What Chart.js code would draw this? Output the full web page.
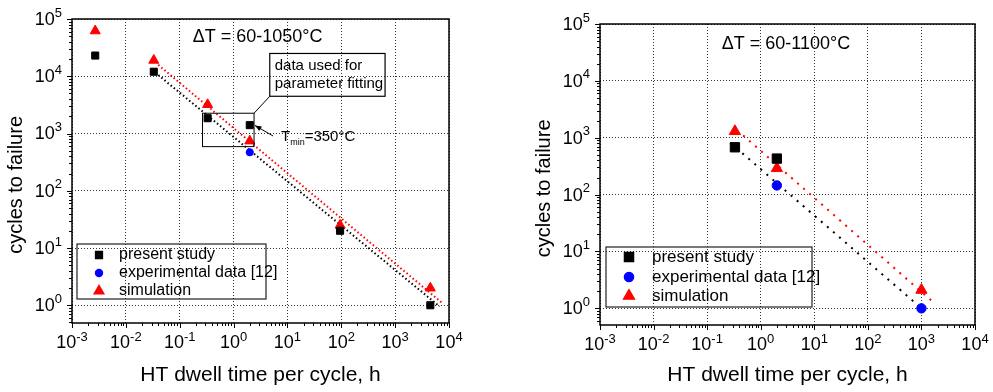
<!DOCTYPE html>
<html>
<head>
<meta charset="utf-8">
<script src="https://cdn.jsdelivr.net/npm/chart.js@4.4.1/dist/chart.umd.min.js"></script>
<style>
  body { margin: 0; background: #fff; width: 993px; height: 392px; overflow: hidden; position: relative; }
  canvas { position: absolute; top: 0; }
  #left { left: 0; }
  #right { left: 496px; }
</style>
</head>
<body>
<canvas id="left" width="496" height="392"></canvas>
<canvas id="right" width="497" height="392"></canvas>
<script>
// left panel, dT = 60-1050 C
const dwellA = [0.0027, 0.033, 0.33, 2, 95, 4500];
const presentA = [23000, 12000, 1850, 1400, 20, 1];
const expDwellA = [2];
const expA = [470];
const simA = [62000, 19000, 3200, 740, 25, 2.0];
const fitBlackXA = [0.04, 6700];
const fitBlackYA = [10500, 0.95];
const fitRedXA = [0.04, 7600];
const fitRedYA = [15800, 1.08];

// right panel, dT = 60-1100 C
const dwellB = [0.33, 2];
const presentB = [680, 430];
const expDwellB = [2, 1000];
const expB = [145, 1];
const simDwellB = [0.33, 2, 1000];
const simB = [1300, 290, 2.1];
const fitBlackXB = [0.27, 950];
const fitBlackYB = [815, 1.05];
const fitRedXB = [0.47, 1800];
const fitRedYB = [1100, 1.2];

const seriesNames = ['present study', 'experimental data [12]', 'simulation'];
const xTickExps = [-3, -2, -1, 0, 1, 2, 3, 4];
const yTickExps = [0, 1, 2, 3, 4, 5];

const FONT = '"Liberation Sans", Arial, sans-serif';
Chart.defaults.font.family = FONT;
Chart.defaults.color = '#000';

const pts = (xs, ys) => xs.map((x, i) => ({ x: x, y: ys[i] }));
const isDecade = v => Math.abs(Math.log10(v) - Math.round(Math.log10(v))) < 1e-6;

function makeDatasets(p, e, s, fb, fr, sz) {
    return [
        { label: seriesNames[0], data: p, pointStyle: 'rect', pointRadius: sz.sq,
          backgroundColor: '#000', borderColor: '#000', borderWidth: 1, order: 0 },
        { label: seriesNames[1], data: e, pointStyle: 'circle', pointRadius: sz.ci,
          backgroundColor: '#0000ff', borderColor: '#0000ff', borderWidth: 1, order: 0 },
        { label: seriesNames[2], data: s, pointStyle: 'triangle', pointRadius: sz.tr,
          backgroundColor: '#ff0000', borderColor: '#ff0000', borderWidth: 1, order: 0 },
        { label: 'fit present', data: fb, showLine: true, pointRadius: 0, borderColor: '#000',
          borderWidth: 2, borderDash: sz.dash, order: 5 },
        { label: 'fit simulation', data: fr, showLine: true, pointRadius: 0, borderColor: '#ff0000',
          borderWidth: 2, borderDash: sz.dash, order: 5 }
    ];
}

// frame, tick marks, 10^n labels, legend box and text notes
const decor = {
    id: 'decor',
    afterDraw(chart, args, o) {
        const { ctx, chartArea: a, scales: { x, y } } = chart;
        const P = (xv, yv) => [x.getPixelForValue(xv), y.getPixelForValue(yv)];
        ctx.save();
        ctx.strokeStyle = '#000';
        ctx.lineWidth = 1;
        // ticks
        for (let e = -4; e <= 5; e++) {
            for (let k = 1; k <= 9; k++) {
                const v = k * Math.pow(10, e);
                const len = k === 1 ? 5 : 3;
                if (v >= x.min - 1e-12 && v <= x.max * 1.0001) {
                    const px = Math.round(x.getPixelForValue(v)) + 0.5;
                    ctx.beginPath(); ctx.moveTo(px, a.bottom); ctx.lineTo(px, a.bottom + len); ctx.stroke();
                }
                if (v >= y.min && v <= y.max * 1.0001) {
                    const py = Math.round(y.getPixelForValue(v)) + 0.5;
                    ctx.beginPath(); ctx.moveTo(a.left, py); ctx.lineTo(a.left - len, py); ctx.stroke();
                }
            }
        }
        ctx.lineWidth = 1.5;
        ctx.strokeRect(a.left, a.top, a.right - a.left, a.bottom - a.top);

        // tick labels with superscript exponent
        ctx.fillStyle = '#000';
        ctx.textBaseline = 'middle';
        const big = '18px ' + FONT, small = '13px ' + FONT;
        xTickExps.forEach(e => {
            const px = x.getPixelForValue(Math.pow(10, e));
            ctx.font = big; const w1 = ctx.measureText('10').width;
            ctx.font = small; const w2 = ctx.measureText(String(e)).width;
            const x0 = px - (w1 + w2) / 2;
            ctx.textAlign = 'left';
            ctx.font = big; ctx.fillText('10', x0, a.bottom + 20);
            ctx.font = small; ctx.fillText(String(e), x0 + w1, a.bottom + 14);
        });
        yTickExps.forEach(e => {
            const py = y.getPixelForValue(Math.pow(10, e));
            ctx.font = small; const w2 = ctx.measureText(String(e)).width;
            const xr = a.left - 10;
            ctx.textAlign = 'left';
            ctx.fillText(String(e), xr - w2, py - 6);
            ctx.textAlign = 'right';
            ctx.font = big; ctx.fillText('10', xr - w2, py + 1);
        });

        // legend
        const L = o.legend;
        const lx = a.left + L.dx, ly = a.bottom - L.dy - L.h;
        ctx.lineWidth = 1.2;
        ctx.strokeStyle = '#222';
        ctx.strokeRect(lx, ly, L.w, L.h);
        chart.data.datasets.slice(0, 3).forEach((ds, i) => {
            const cy = ly + L.rows[i];
            ctx.fillStyle = ds.backgroundColor;
            ctx.strokeStyle = ds.borderColor;
            Chart.helpers.drawPoint(ctx, { pointStyle: ds.pointStyle, radius: ds.pointRadius, rotation: 0, borderWidth: 1 }, lx + L.mx, cy);
            ctx.fillStyle = '#000';
            ctx.font = L.font + 'px ' + FONT;
            ctx.textAlign = 'left';
            ctx.fillText(ds.label, lx + L.tx, cy);
        });

        // delta T label
        ctx.font = '18px ' + FONT;
        ctx.textAlign = 'center';
        const t = P(o.title.x, o.title.y);
        ctx.fillText(o.title.text, t[0], t[1]);

        if (o.note) {
            const n = o.note;
            ctx.strokeStyle = '#000';
            ctx.lineWidth = 1;
            // small box round the fitted points
            const s1 = P(n.small[0], n.small[3]), s2 = P(n.small[1], n.small[2]);
            ctx.strokeRect(s1[0], s1[1], s2[0] - s1[0], s2[1] - s1[1]);
            // text box
            const b1 = P(n.box[0], n.box[3]), b2 = P(n.box[1], n.box[2]);
            ctx.lineWidth = 1.2;
            ctx.strokeRect(b1[0], b1[1], b2[0] - b1[0], b2[1] - b1[1]);
            ctx.lineWidth = 1;
            ctx.beginPath(); ctx.moveTo(s2[0], s1[1]); ctx.lineTo(b1[0], b2[1]); ctx.stroke();
            ctx.font = '15px ' + FONT;
            ctx.textAlign = 'left';
            n.lines.forEach((ln, i) => ctx.fillText(ln, b1[0] + 5, b1[1] + 12 + i * 18));
            // arrow to the Tmin point
            const p0 = P(n.arrow[0], n.arrow[1]), p1 = P(n.arrow[2], n.arrow[3]);
            ctx.beginPath(); ctx.moveTo(p0[0], p0[1]); ctx.lineTo(p1[0], p1[1]); ctx.stroke();
            const ang = Math.atan2(p1[1] - p0[1], p1[0] - p0[0]);
            ctx.beginPath();
            ctx.moveTo(p1[0], p1[1]);
            ctx.lineTo(p1[0] - 7 * Math.cos(ang - 0.4), p1[1] - 7 * Math.sin(ang - 0.4));
            ctx.lineTo(p1[0] - 7 * Math.cos(ang + 0.4), p1[1] - 7 * Math.sin(ang + 0.4));
            ctx.closePath(); ctx.fill();
            // T_min = 350 C
            const tp = P(n.tmin.x, n.tmin.y);
            ctx.font = '15px ' + FONT;
            ctx.fillText('T', tp[0], tp[1]);
            const wT = ctx.measureText('T').width;
            ctx.font = '9px ' + FONT;
            ctx.fillText('min', tp[0] + wT, tp[1] + 6);
            const wm = ctx.measureText('min').width;
            ctx.font = '15px ' + FONT;
            ctx.fillText('=350°C', tp[0] + wT + wm, tp[1]);
        }
        ctx.restore();
    }
};

function makeChart(id, datasets, ymin, pad, xh, decorOpts) {
    return new Chart(document.getElementById(id), {
        type: 'scatter',
        data: { datasets: datasets },
        options: {
            responsive: false,
            animation: false,
            devicePixelRatio: 1,
            layout: { padding: pad },
            plugins: { legend: { display: false }, tooltip: { enabled: false }, decor: decorOpts },
            scales: {
                x: {
                    type: 'logarithmic', min: 0.001, max: 10000,
                    ticks: { display: false },
                    grid: { color: c => (c.tick && isDecade(c.tick.value)) ? '#333' : 'rgba(0,0,0,0)', lineWidth: 1, drawTicks: false },
                    border: { display: false, dash: [1, 2] },
                    title: { display: true, text: 'HT dwell time per cycle, h', font: { size: 21 }, padding: { top: 4, bottom: 4 } },
                    afterFit: s => { s.height = xh; }
                },
                y: {
                    type: 'logarithmic', min: ymin, max: 100000,
                    ticks: { display: false },
                    grid: { color: c => (c.tick && isDecade(c.tick.value)) ? '#333' : 'rgba(0,0,0,0)', lineWidth: 1, drawTicks: false },
                    border: { display: false, dash: [1, 2] },
                    // trailing spaces push the centred title a little lower, as in the source figure
                    title: { display: true, text: 'cycles to failure\u00a0\u00a0\u00a0\u00a0\u00a0', font: { size: 20 }, padding: { top: 4, bottom: 4 } },
                    afterFit: s => { s.width = 72; }
                }
            }
        },
        plugins: [decor]
    });
}

makeChart('left',
    makeDatasets(pts(dwellA, presentA), pts(expDwellA, expA), pts(dwellA, simA),
        pts(fitBlackXA, fitBlackYA), pts(fitRedXA, fitRedYA),
        { sq: 5, ci: 3.6, tr: 5.8, dash: [1.5, 2.5] }),
    0.49, { left: 0, right: 47, top: 19, bottom: 0 }, 69,
    {
        legend: { dx: 5, dy: 24, w: 189, h: 55, mx: 22, tx: 42, rows: [11, 29, 47], font: 16 },
        title: { text: 'ΔT = 60-1050°C', x: 2.8, y: 49000 },
        note: {
            small: [0.265, 2.4, 590, 2260],
            box: [4.7, 650, 4470, 25000],
            lines: ['data used for', 'parameter fitting'],
            arrow: [5.4, 906, 2.5, 1380],
            tmin: { x: 7.6, y: 870 }
        }
    });

makeChart('right',
    makeDatasets(pts(dwellB, presentB), pts(expDwellB, expB), pts(simDwellB, simB),
        pts(fitBlackXB, fitBlackYB), pts(fitRedXB, fitRedYB),
        { sq: 6.6, ci: 4.7, tr: 6.5, dash: [2, 6] }),
    0.51, { left: 32, right: 18, top: 24, bottom: 0 }, 67,
    {
        legend: { dx: 6, dy: 18, w: 206, h: 60, mx: 23, tx: 46, rows: [10, 30, 49], font: 17 },
        title: { text: 'ΔT = 60-1100°C', x: 2.96, y: 45000 }
    });
</script>
</body>
</html>
